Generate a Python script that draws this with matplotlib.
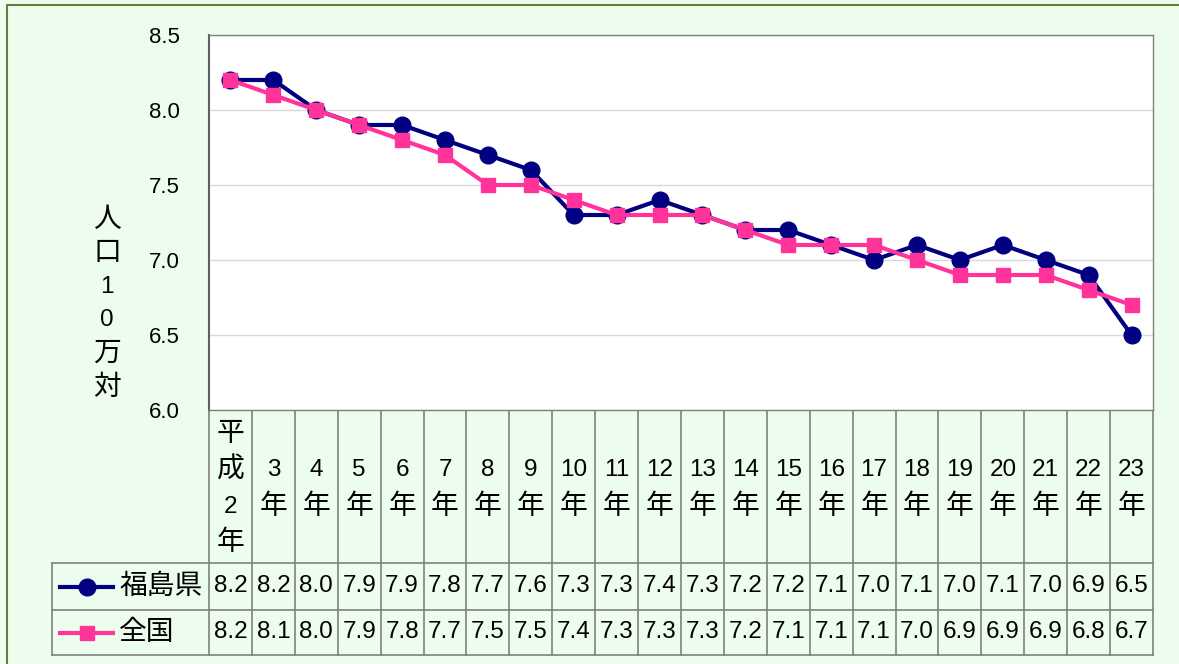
import matplotlib
matplotlib.use("Agg")
import matplotlib.pyplot as plt
from matplotlib.transforms import blended_transform_factory

fam = ['Liberation Sans', 'Noto Sans CJK JP', 'DejaVu Sans']
plt.rcParams['font.family'] = fam

# data
years = ["平\n成\n2\n年", "3\n年", "4\n年", "5\n年", "6\n年", "7\n年", "8\n年", "9\n年",
         "10\n年", "11\n年", "12\n年", "13\n年", "14\n年", "15\n年", "16\n年", "17\n年",
         "18\n年", "19\n年", "20\n年", "21\n年", "22\n年", "23\n年"]
fukushima = [8.2, 8.2, 8.0, 7.9, 7.9, 7.8, 7.7, 7.6, 7.3, 7.3, 7.4,
             7.3, 7.2, 7.2, 7.1, 7.0, 7.1, 7.0, 7.1, 7.0, 6.9, 6.5]
zenkoku = [8.2, 8.1, 8.0, 7.9, 7.8, 7.7, 7.5, 7.5, 7.4, 7.3, 7.3,
           7.3, 7.2, 7.1, 7.1, 7.1, 7.0, 6.9, 6.9, 6.9, 6.8, 6.7]
series = [("福島県", fukushima, "#000080", "o", 12),
          ("全国", zenkoku, "#FF3399", "s", 10)]
ylabel = "人\n口\n1\n0\n万\n対"

W, H = 1179, 664
bg = "#EDFDED"
grid_c = "#808080"


def fsize(ch):
    # digits a bit smaller than kanji
    return 17.5 if ch.isascii() else 20


fig = plt.figure(figsize=(W / 100, H / 100), dpi=100)
fig.patch.set_facecolor(bg)

# overlay in pixel coords for frame and data table
ov = fig.add_axes([0, 0, 1, 1], zorder=0)
ov.set_xlim(0, W)
ov.set_ylim(H, 0)
ov.axis("off")
ov.patch.set_alpha(0)

# outer frame
ov.plot([7, 7, W + 5], [H + 5, 5, 5], color="#6B7A3C", lw=1.5, clip_on=False)

# plot area
left, top, right, bottom = 209, 35, 1153, 410
ax = fig.add_axes([left / W, (H - bottom) / H, (right - left) / W, (bottom - top) / H], zorder=2)
ax.set_facecolor("white")
n = len(years)
x = list(range(n))
for name, vals, col, mk, ms in series:
    ax.plot(x, vals, color=col, lw=3, marker=mk, markersize=ms, markeredgecolor=col,
            solid_joinstyle="miter")
ax.set_xlim(-0.5, n - 0.5)
ax.set_ylim(6.0, 8.5)
ax.set_yticks([6.0, 6.5, 7.0, 7.5, 8.0, 8.5])
ax.set_yticklabels([f"{v:.1f}" for v in ax.get_yticks()], fontsize=16)
ax.tick_params(axis="y", length=0, pad=21)
ax.set_xticks([])
ax.grid(axis="y", color="#D9D9D9", lw=1)
for s in ax.spines.values():
    s.set_color(grid_c)
    s.set_linewidth(1)
ax.spines["left"].set_color("#606060")
ax.spines["left"].set_linewidth(1.5)

# y label stacked vertically
for k, ch in enumerate(ylabel.split("\n")):
    ov.text(107, 220 + k * 33.5, ch, fontsize=fsize(ch), ha="center", va="center")

# data table
tr = blended_transform_factory(ax.transData, ov.transData)
hdr_top, row1, row2, tbl_bot = 410, 563, 610, 655
for i in range(n + 1):
    ov.plot([i - 0.5, i - 0.5], [hdr_top, tbl_bot], color=grid_c, lw=1.2,
            transform=tr, clip_on=False)
for yy in (row1, row2, tbl_bot):
    ov.plot([52, right], [yy, yy], color=grid_c, lw=1.2, clip_on=False)
ov.plot([52, 52], [row1, tbl_bot], color=grid_c, lw=1.2, clip_on=False)

hdr_mid = (hdr_top + row1) / 2 + 2
for i, lab in enumerate(years):
    lines = lab.split("\n")
    y0 = hdr_mid - (len(lines) - 1) * 36.5 / 2
    for k, ch in enumerate(lines):
        ov.text(i, y0 + k * 36.5, ch, fontsize=fsize(ch), ha="center", va="center",
                transform=tr)

for r, (name, vals, col, mk, ms) in enumerate(series):
    yc = (row1 + row2) / 2 if r == 0 else (row2 + tbl_bot) / 2
    ov.plot([60, 113], [yc, yc], color=col, lw=3, clip_on=False)
    ov.plot([87], [yc], marker=mk, color=col, markersize=ms, clip_on=False)
    ov.text(119, yc, name, fontsize=20, ha="left", va="center")
    for i, v in enumerate(vals):
        ov.text(i, yc, f"{v:.1f}", fontsize=17.5, ha="center", va="center", transform=tr)

fig.savefig("out.png", dpi=100, facecolor=bg)
